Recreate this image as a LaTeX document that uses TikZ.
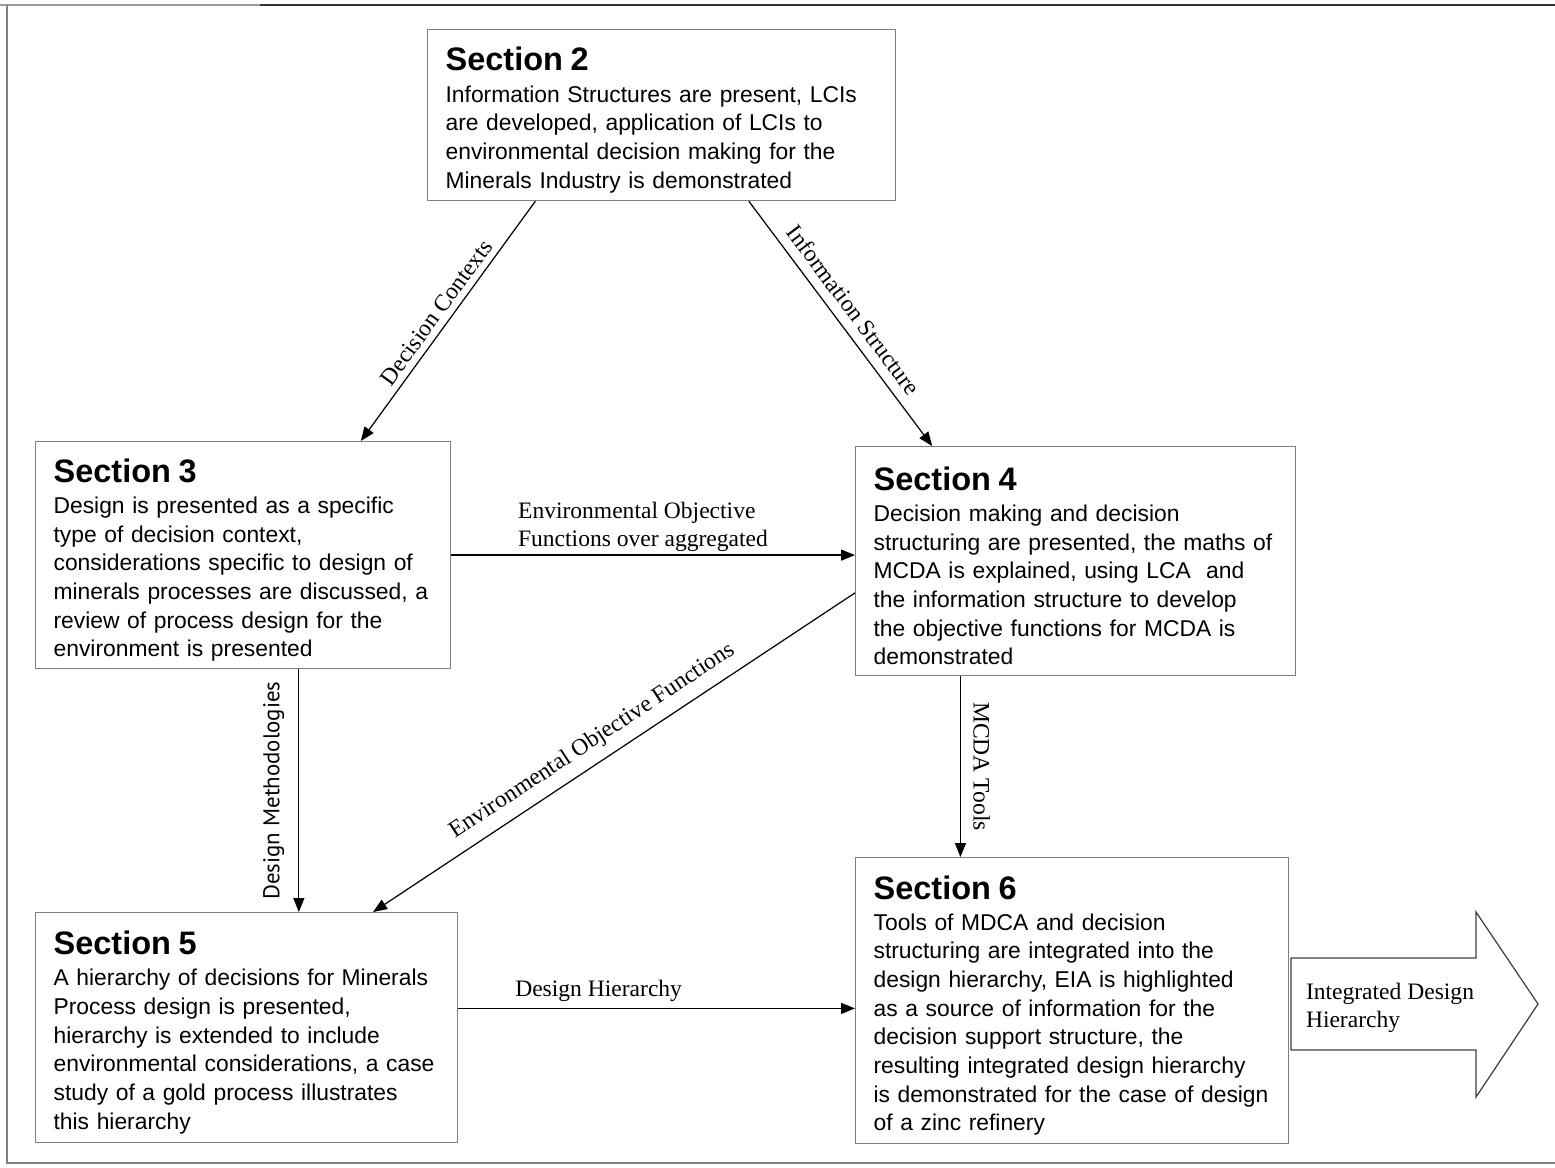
\documentclass[tikz,border=0pt]{standalone}
\usepackage{fontspec}
\setmainfont{Liberation Serif}
\newfontfamily\boxfont{Liberation Sans}
\newfontfamily\humsans{PT Sans}
\usetikzlibrary{arrows.meta,calc}

\newcommand\secttl[1]{{\fontsize{18.5}{20}\selectfont\bfseries\rule{0pt}{19pt}#1}\\[1.5pt]}

\begin{document}
\begin{tikzpicture}[x=0.02cm,y=-0.02cm,
  secbox/.style={draw=black!50,line width=0.7pt,anchor=north west,inner xsep=0.36cm,inner ysep=0pt,
    align=left,font=\boxfont\fontsize{13}{16.3}\selectfont},
  link/.style={-{Triangle[length=2.8mm,width=2.2mm]},line width=0.7pt},
  lbl/.style={font=\fontsize{13.4}{15.9}\selectfont,inner sep=1.5pt}]
\useasboundingbox (0,0) rectangle (1555,1167);
\draw[black!40,line width=0.8pt] (0,5) -- (260,5);
\draw[black!80,line width=0.8pt] (260,5) -- (1555,5);
\draw[black!50,line width=0.8pt] (7,5) -- (7,1163) -- (1555,1163);

\node[secbox,text width=8.64cm,minimum height=3.42cm] (s2) at (427,29) {\secttl{Section 2}
Information Structures are present, LCIs\\
are developed, application of LCIs to\\
environmental decision making for the\\
Minerals Industry is demonstrated};

\node[secbox,text width=7.58cm,minimum height=4.54cm] (s3) at (35,441) {\secttl{Section 3}
Design is presented as a specific\\
type of decision context,\\
considerations specific to design of\\
minerals processes are discussed, a\\
review of process design for the\\
environment is presented};

\node[secbox,text width=8.08cm,minimum height=4.58cm] (s4) at (855,446) {\secttl{Section 4}
Decision making and decision\\
structuring are presented, the maths of\\
MCDA is explained, using LCA\ \ and\\
the information structure to develop\\
the objective functions for MCDA is\\
demonstrated};

\node[secbox,text width=7.72cm,minimum height=4.60cm] (s5) at (35,912) {\secttl{Section 5}
A hierarchy of decisions for Minerals\\
Process design is presented,\\
hierarchy is extended to include\\
environmental considerations, a case\\
study of a gold process illustrates\\
this hierarchy};

\node[secbox,text width=7.94cm,minimum height=5.72cm] (s6) at (855,857) {\secttl{Section 6}
Tools of MDCA and decision\\
structuring are integrated into the\\
design hierarchy, EIA is highlighted\\
as a source of information for the\\
decision support structure, the\\
resulting integrated design hierarchy\\
is demonstrated for the case of design\\
of a zinc refinery};

\draw[link] ($(s2.south west)!0.231!(s2.south east)$) -- node[lbl,sloped,midway,above=2pt] {Decision Contexts} ($(s3.north west)!0.783!(s3.north east)$);
\draw[link] ($(s2.south west)!0.686!(s2.south east)$) -- node[lbl,sloped,pos=0.49,above=4pt] {Information Structure} ($(s4.north west)!0.175!(s4.north east)$);
\draw[link] (s3.east) -- node[lbl,pos=0.475,above,align=left] {Environmental Objective\\Functions over aggregated} (s3.east -| s4.west);
\draw[link] ($(s4.north west)!0.638!(s4.south west)$) -- node[lbl,sloped,pos=0.52,above=4pt] {Environmental Objective Functions} ($(s5.north west)!0.799!(s5.north east)$);
\draw[link] ($(s3.south west)!0.634!(s3.south east)$) coordinate (dm) -- node[lbl,font=\humsans\fontsize{13}{15}\selectfont,midway,rotate=90,anchor=south,inner ysep=8pt] {Design Methodologies} (dm |- s5.north);
\draw[link] ($(s4.south west)!0.239!(s4.south east)$) coordinate (mt) -- node[lbl,midway,rotate=-90,anchor=south,inner ysep=7pt] {MCDA Tools} (mt |- s6.north);
\draw[link] ($(s5.north east)!0.417!(s5.south east)$) coordinate (dh) -- node[lbl,pos=0.354,above=2pt] {Design Hierarchy} (dh -| s6.west);

\draw[black!75,line width=0.7pt] (1291,958) -- (1476,958) -- (1476,912) -- (1538,1004) -- (1476,1097) -- (1476,1050) -- (1291,1050) -- cycle;
\node[lbl,align=left,anchor=west] (out) at (1303,1008) {Integrated Design\\Hierarchy};
\end{tikzpicture}
\end{document}
